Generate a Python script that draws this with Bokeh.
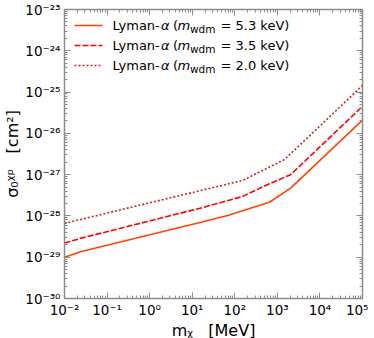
from bokeh.plotting import figure
from bokeh.models import (LogAxis, FixedTicker, CustomJSTickFormatter, Arrow,
                          Label, Range1d)
from bokeh.embed import file_html
from bokeh.resources import INLINE

# ---------------- data ----------------
mass_53 = [0.01, 0.025, 17.0, 68.0, 650.0, 2050.0, 1.0e5]
sigma_53 = [1.0e-29, 1.38e-29, 7.1e-29, 1.02e-28, 2.14e-28, 4.7e-28, 2.1e-26]

mass_35 = [0.01, 0.025, 17.0, 150.0, 650.0, 2050.0, 1.0e5]
sigma_35 = [2.2e-29, 2.9e-29, 1.58e-28, 2.95e-28, 6.0e-28, 1.0e-27, 4.5e-26]

mass_20 = [0.01, 17.0, 150.0, 1450.0, 3900.0, 1.0e5]
sigma_20 = [6.6e-29, 4.2e-28, 7.2e-28, 2.3e-27, 6.0e-27, 1.45e-25]

mwdm_values = ["5.3", "3.5", "2.0"]

x_major = [1e-2, 1e-1, 1e0, 1e1, 1e2, 1e3, 1e4, 1e5]
y_major = [1e-30, 1e-29, 1e-28, 1e-27, 1e-26, 1e-25, 1e-24, 1e-23]

x_title = "m\u1d6a\u00a0\u00a0\u00a0[MeV]"
y_title = "\u03c3\u2080\u1d61\u1d56\u00a0\u00a0\u00a0[cm\u00b2]"

# ---------------- styles ----------------
colors = ["#FF4500", "#FF0000", "#C0282D"]
dashes = ["solid", "6 2", "2 2"]
FONT = "DejaVu Sans"
FRAME_GREY = "#8c8c8c"

FW, FH = 298, 289

p = figure(x_axis_type="log", y_axis_type="log",
           x_range=Range1d(x_major[0], x_major[-1]),
           y_range=Range1d(y_major[0], y_major[-1]),
           frame_width=FW, frame_height=FH,
           output_backend="svg", toolbar_location=None,
           min_border_left=62, min_border_right=6,
           min_border_top=9, min_border_bottom=0,
           background_fill_color="white", border_fill_color="white")
p.grid.visible = False
p.outline_line_color = FRAME_GREY
p.outline_line_width = 1.5

sup_js = """
const e = Math.round(Math.log10(tick));
const sup = {"-":"\u207b","0":"\u2070","1":"\u00b9","2":"\u00b2","3":"\u00b3",
             "4":"\u2074","5":"\u2075","6":"\u2076","7":"\u2077","8":"\u2078","9":"\u2079"};
return "10" + String(e).split("").map(c => sup[c]).join("");
"""
blank_js = "return '';"


def minor_of(major):
    out = []
    for v in major[:-1]:
        for k in range(2, 10):
            out.append(v * k)
    return out


xticker = FixedTicker(ticks=x_major, minor_ticks=minor_of(x_major))
yticker = FixedTicker(ticks=y_major, minor_ticks=minor_of(y_major))


def style_axis(ax, ticker, show):
    ax.ticker = ticker
    ax.axis_line_color = None
    ax.major_tick_in = 6
    ax.major_tick_out = 0
    ax.minor_tick_in = 3
    ax.minor_tick_out = 0
    ax.major_tick_line_color = FRAME_GREY
    ax.minor_tick_line_color = FRAME_GREY
    ax.major_tick_line_width = 1
    ax.minor_tick_line_width = 1
    if show:
        ax.formatter = CustomJSTickFormatter(code=sup_js)
        ax.major_label_text_font = FONT
        ax.major_label_text_font_size = "13.5px"
        ax.major_label_text_color = "black"
        ax.major_label_standoff = 4
        ax.axis_label_text_font = FONT
        ax.axis_label_text_font_size = "16px"
        ax.axis_label_text_font_style = "normal"
        ax.axis_label_text_color = "black"
    else:
        ax.formatter = CustomJSTickFormatter(code=blank_js)
        ax.major_label_text_font_size = "0px"
        ax.major_label_standoff = 0


style_axis(p.xaxis[0], xticker, True)
style_axis(p.yaxis[0], yticker, True)
p.xaxis[0].major_label_standoff = 3
p.xaxis[0].axis_label = x_title
p.yaxis[0].axis_label = y_title
p.xaxis[0].axis_label_standoff = 0
p.yaxis[0].axis_label_standoff = 0

top_axis = LogAxis()
right_axis = LogAxis()
style_axis(top_axis, xticker, False)
style_axis(right_axis, yticker, False)
p.add_layout(top_axis, "above")
p.add_layout(right_axis, "right")

# ---------------- curves ----------------
series = [(mass_53, sigma_53), (mass_35, sigma_35), (mass_20, sigma_20)]
for (m, s), c, d in zip(series, colors, dashes):
    p.line(x=m, y=s, line_color=c, line_width=1.6, line_dash=d)


def add_text(txt, sx, sy, size, style="normal"):
    p.add_layout(Label(x=sx, y=sy, x_units="screen", y_units="screen",
                       text=txt, text_font=FONT, text_font_size=size,
                       text_font_style=style, text_color="black",
                       text_baseline="middle", text_align="left"))


# ---------------- legend (sample lines + rich text, frame-relative pixels) ----------------
text_x0 = 48
row0 = 16
row_gap = 20
for i, mv in enumerate(mwdm_values):
    yc = FH - row0 - row_gap * i
    p.add_layout(Arrow(start=None, end=None, x_start=10, y_start=yc, x_end=38, y_end=yc,
                       start_units="screen", end_units="screen",
                       line_color=colors[i], line_width=1.6, line_dash=dashes[i]))
    pieces = [
        ("Lyman-", "normal", "13px", 0, 0),
        ("\u03b1", "italic", "13px", 48.5, 0),
        ("(", "normal", "13px", 60.5, 0),
        ("m", "italic", "13px", 65, 0),
        ("wdm", "normal", "10.5px", 77.5, -3.5),
        ("= " + mv + " keV)", "normal", "13px", 108, 0),
    ]
    for txt, style, size, dx, dy in pieces:
        add_text(txt, text_x0 + dx, yc + dy, size, style)

open("out.html", "w").write(file_html(p, INLINE))
